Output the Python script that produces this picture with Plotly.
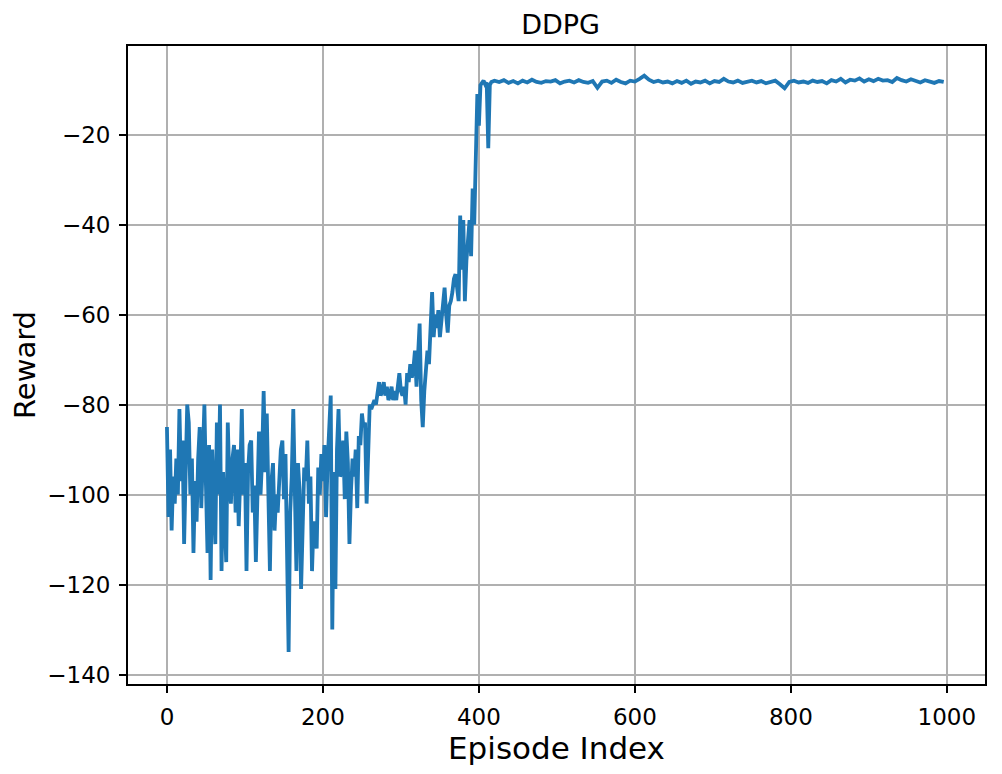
import plotly.graph_objects as go

# episodes 0..418, every second episode (noisy start and the climb)
early_episodes = list(range(0, 420, 2))
early_reward = [
    -85, -105, -90, -108, -96, -102, -92, -100, -81, -97,
    -88, -111, -95, -80, -84, -100, -92, -113, -97, -106,
    -92, -85, -103, -94, -80, -98, -113, -89, -119, -90,
    -104, -111, -84, -100, -80, -117, -95, -106, -115, -84,
    -97, -102, -92, -89, -104, -90, -107, -96, -81, -100,
    -93, -117, -95, -89, -88, -104, -98, -115, -95, -86,
    -100, -92, -77, -95, -82, -103, -117, -97, -93, -108,
    -100, -104, -95, -90, -88, -101, -91, -110, -135, -104,
    -96, -81, -98, -117, -93, -99, -121, -110, -94, -97,
    -88, -102, -96, -117, -106, -107, -112, -94, -100, -91,
    -97, -89, -105, -93, -86, -78, -130, -95, -121, -90,
    -81, -96, -95, -88, -101, -86, -93, -111, -99, -92,
    -96, -90, -103, -87, -89, -82, -85, -84, -102, -88,
    -80, -81, -80, -79, -80, -78, -75, -78, -77, -75,
    -78, -76, -79, -78, -76, -79, -77, -79, -75, -73,
    -77, -78, -76, -80, -73, -75, -71, -74, -72, -68,
    -76, -70, -62, -79, -85, -77, -72, -68, -71, -62,
    -55, -65, -60, -63, -59, -65, -61, -58, -54, -60,
    -64, -58, -57, -55, -52, -51, -55, -57, -38, -50,
    -39, -57, -48, -42, -39, -47, -32, -40, -20, -11,
    -18, -9, -8.5, -8, -8.8, -8.4, -23, -9, -8.3, -8.1,
]

# episodes 420..996, every sixth episode (converged plateau)
late_episodes = list(range(420, 1000, 6))
late_reward = [
    -8.0, -8.3, -7.9, -8.5, -8.1, -8.6, -8.0, -8.4, -7.8, -8.3,
    -8.5, -8.1, -8.2, -7.9, -8.6, -8.2, -8.0, -8.4, -7.9, -8.3,
    -8.5, -8.1, -9.6, -8.2, -8.0, -8.5, -7.8, -8.3, -8.6, -8.0,
    -8.2, -7.6, -6.9, -7.8, -8.3, -8.0, -8.4, -8.2, -8.6, -8.1,
    -8.5, -8.0, -8.7, -8.2, -8.4, -8.0, -8.6, -8.1, -8.3, -7.6,
    -8.2, -8.4, -8.0, -8.5, -8.2, -8.0, -8.4, -8.1, -8.6, -8.2,
    -8.0, -8.8, -9.7, -8.3, -8.0, -8.4, -8.2, -8.5, -8.0, -8.3,
    -8.1, -8.6, -7.9, -8.2, -7.6, -8.4, -7.8, -8.0, -7.5, -8.2,
    -7.7, -8.1, -7.6, -8.0, -7.9, -8.3, -7.4, -7.9, -8.2, -7.7,
    -8.1, -8.4, -7.9, -8.2, -8.5, -8.1, -8.3,
]

x_ticks = [0, 200, 400, 600, 800, 1000]
y_ticks = [-140, -120, -100, -80, -60, -40, -20]
y_tick_text = ['\u2212' + str(abs(v)) for v in y_ticks]

episodes = early_episodes + late_episodes
reward = early_reward + late_reward

font = 'DejaVu Sans'

fig = go.Figure()
fig.add_trace(go.Scatter(x=episodes, y=reward, mode='lines',
                         line=dict(color='#1f77b4', width=3.8), showlegend=False))

# the page puts the figure 8px in from the top-left corner
fig.update_layout(
    width=994, height=766,
    margin=dict(l=120, r=17, t=38, b=90),
    paper_bgcolor='white', plot_bgcolor='white',
    font=dict(family=font, color='black', size=23),
    title=dict(text='DDPG', x=0.556, xanchor='center', y=0.979, yanchor='middle',
               font=dict(family=font, size=27, color='black')),
)

axis_style = dict(showline=True, linewidth=1.8, linecolor='black', mirror=True,
                  showgrid=True, gridcolor='#b0b0b0', gridwidth=1.6,
                  ticks='outside', ticklen=7, tickwidth=1.6, tickcolor='black',
                  zeroline=False, tickfont=dict(family=font, size=23, color='black'))

fig.update_xaxes(range=[-49.95, 1048.95], tickvals=x_ticks, ticklabelstandoff=4, **axis_style)
fig.update_yaxes(range=[-142.1, -0.3], tickvals=y_ticks, ticktext=y_tick_text,
                 ticklabelstandoff=4, automargin=False,
                 title=dict(text='Reward', standoff=14,
                            font=dict(family=font, size=29, color='black')),
                 **axis_style)

fig.add_annotation(text='Episode Index', xref='paper', yref='paper', x=0.5, y=0,
                   yshift=-64, xanchor='center', yanchor='middle', showarrow=False,
                   font=dict(family=font, size=31, color='black'))

fig.write_html('out.html')
